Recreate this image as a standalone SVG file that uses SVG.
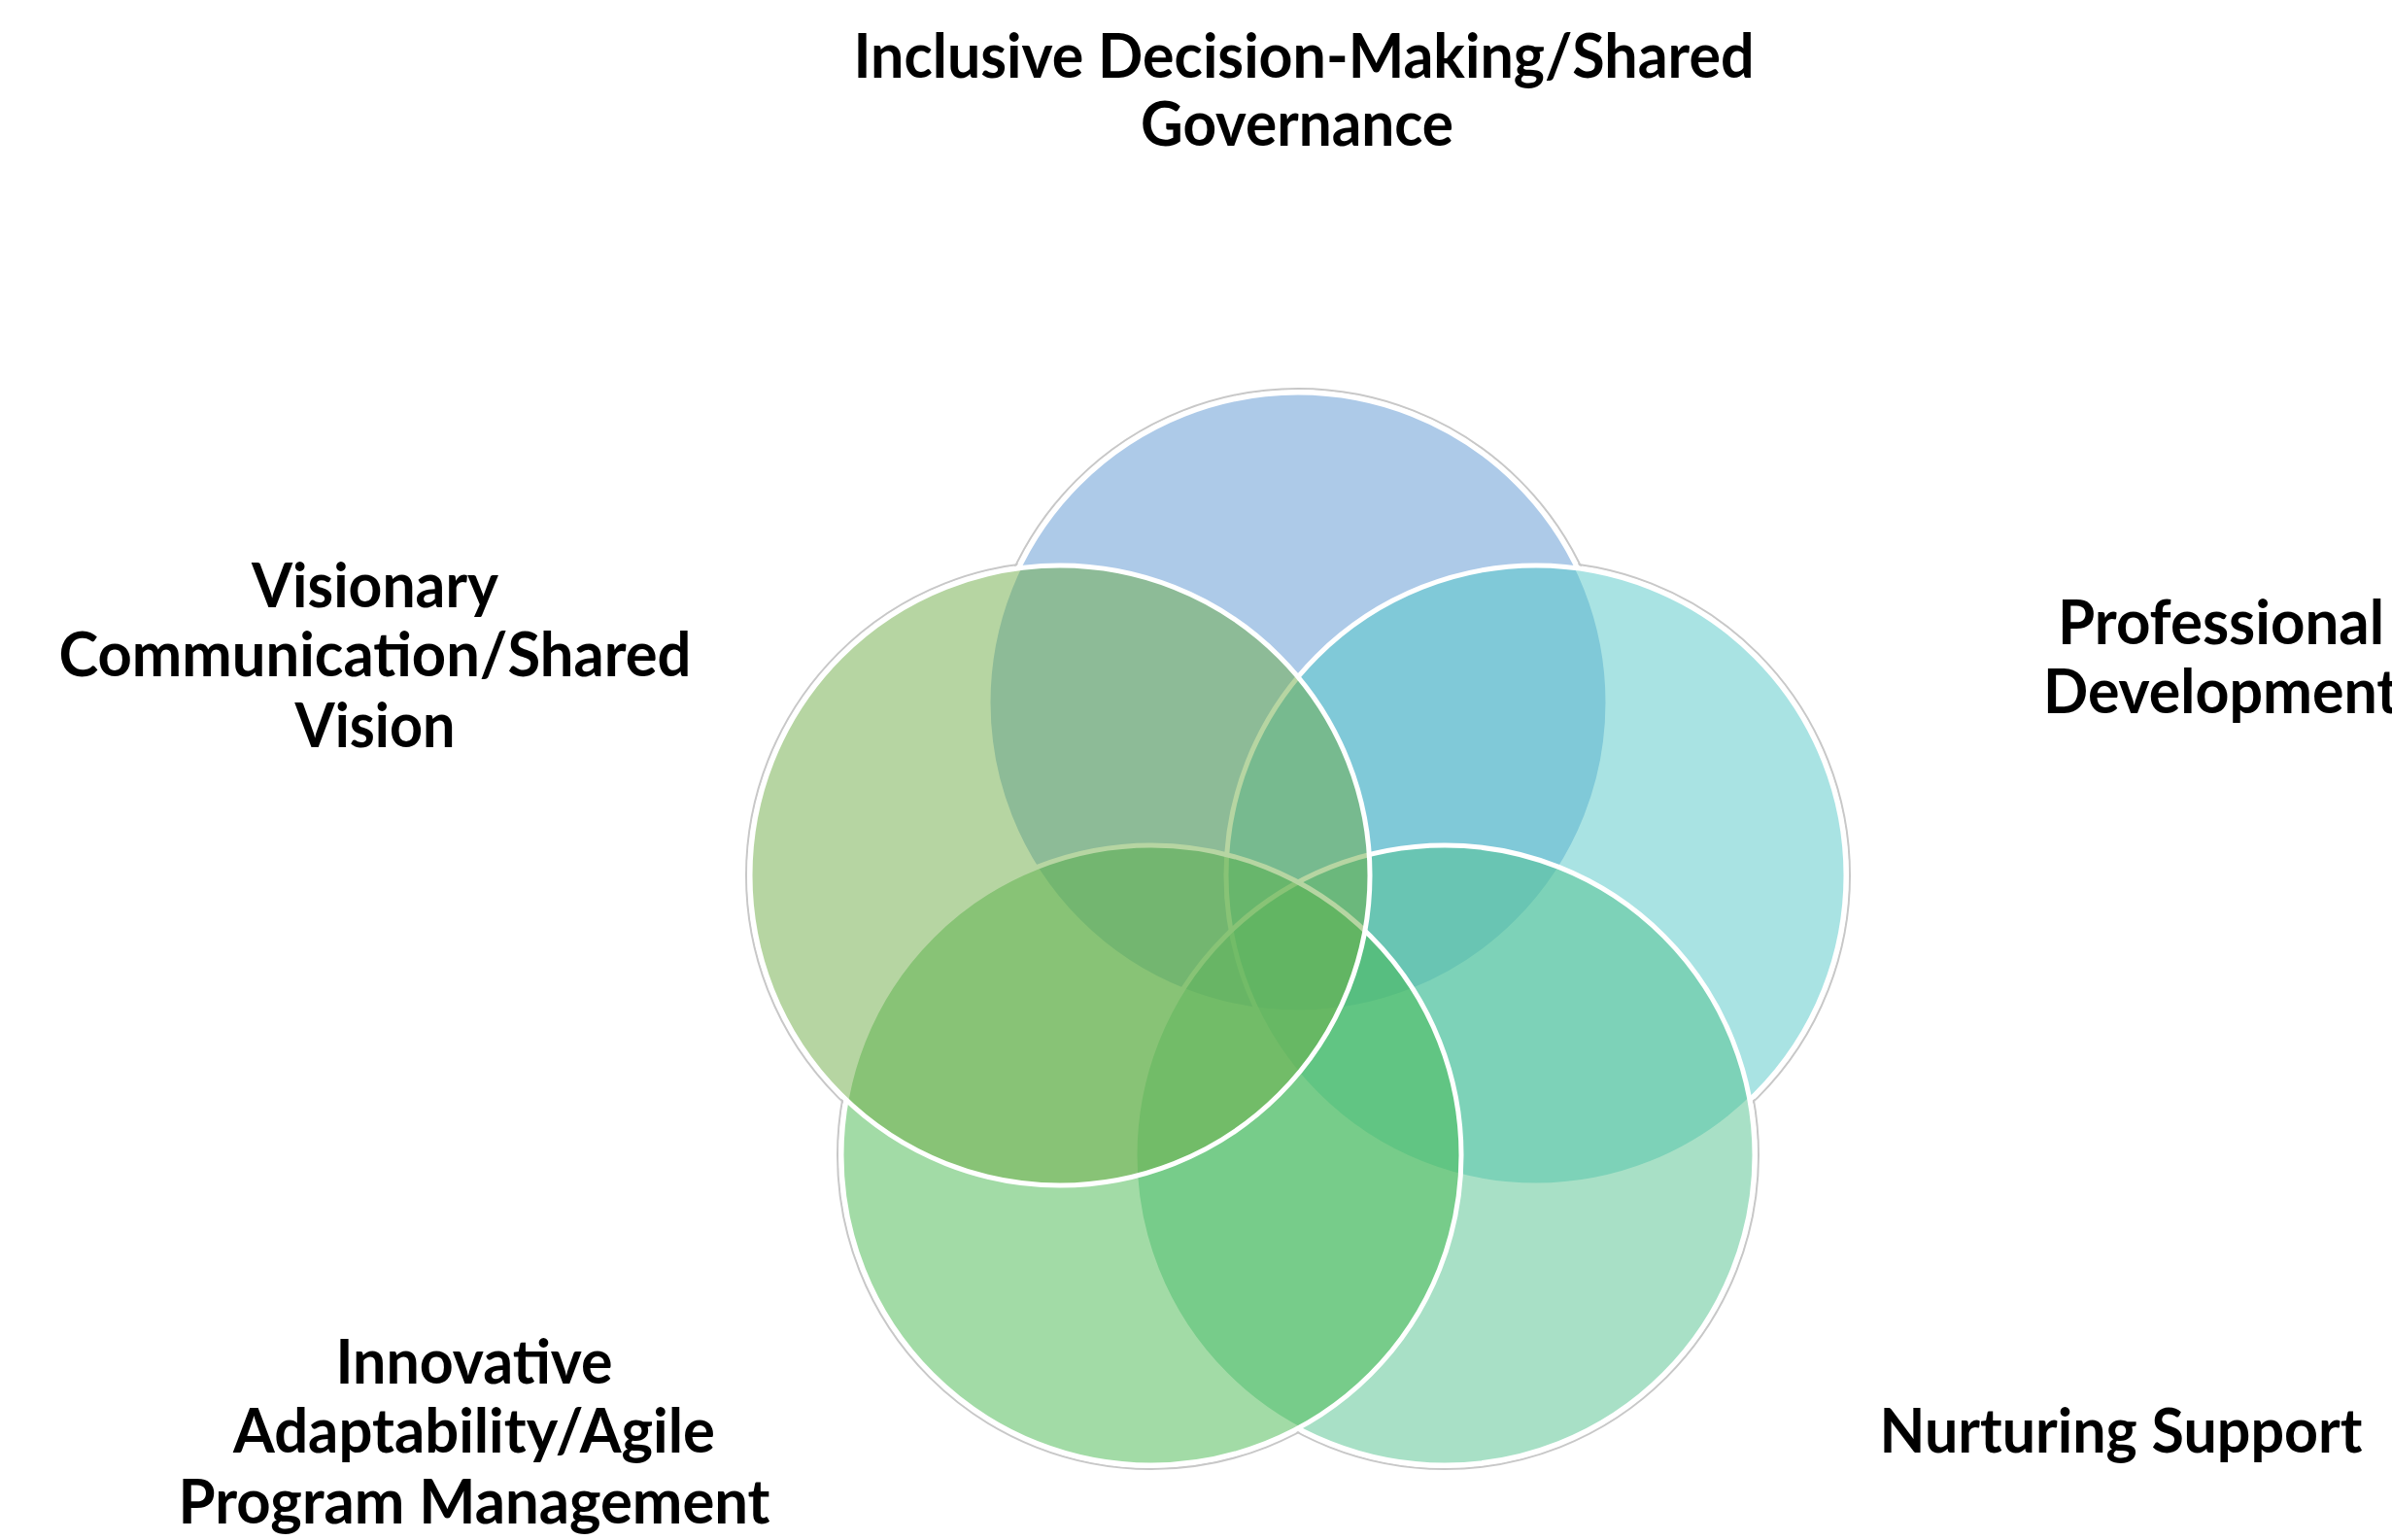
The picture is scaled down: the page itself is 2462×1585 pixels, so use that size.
<svg xmlns="http://www.w3.org/2000/svg" width="2462" height="1585" viewBox="0 0 2462 1585">
<style>
.halo{fill:none;stroke:#c8c8c8;stroke-width:2}
.under{fill:#ffffff;stroke:#ffffff;stroke-width:5}
.c{stroke:#ffffff;stroke-width:5;fill-opacity:0.5}
.lbl{font-family:Lato,"Liberation Sans",sans-serif;font-weight:bold;font-size:64px;fill:#000000;text-anchor:middle}
</style>
<rect width="2462" height="1585" fill="#ffffff"/>
<g id="halos">
<circle class="halo" cx="1336" cy="723" r="323"/>
<circle class="halo" cx="1581" cy="901" r="323"/>
<circle class="halo" cx="1487" cy="1189" r="323"/>
<circle class="halo" cx="1185" cy="1189" r="323"/>
<circle class="halo" cx="1091" cy="901" r="323"/>
</g>
<g id="underlay">
<circle class="under" cx="1336" cy="723" r="319"/>
<circle class="under" cx="1581" cy="901" r="319"/>
<circle class="under" cx="1487" cy="1189" r="319"/>
<circle class="under" cx="1185" cy="1189" r="319"/>
<circle class="under" cx="1091" cy="901" r="319"/>
</g>
<g id="node-governance">
<circle class="c" cx="1336" cy="723" r="319" fill="#5B95D1"/>
<text class="lbl"><tspan x="1342" y="80" textLength="927" lengthAdjust="spacingAndGlyphs">Inclusive Decision-Making/Shared</tspan><tspan x="1335" y="150" textLength="322" lengthAdjust="spacingAndGlyphs">Governance</tspan></text>
</g>
<g id="node-professional">
<circle class="c" cx="1581" cy="901" r="319" fill="#53C7C7"/>
<text class="lbl"><tspan x="2286" y="663" textLength="336" lengthAdjust="spacingAndGlyphs">Professional</tspan><tspan x="2286" y="734" textLength="366" lengthAdjust="spacingAndGlyphs">Development</tspan></text>
</g>
<g id="node-nurturing">
<circle class="c" cx="1487" cy="1189" r="319" fill="#51C18D"/>
<text class="lbl"><tspan x="2183" y="1495" textLength="497" lengthAdjust="spacingAndGlyphs">Nurturing Support</tspan></text>
</g>
<g id="node-innovative">
<circle class="c" cx="1185" cy="1189" r="319" fill="#45B74D"/>
<text class="lbl"><tspan x="488" y="1424" textLength="285" lengthAdjust="spacingAndGlyphs">Innovative</tspan><tspan x="488" y="1495" textLength="496" lengthAdjust="spacingAndGlyphs">Adaptability/Agile</tspan><tspan x="488" y="1568" textLength="609" lengthAdjust="spacingAndGlyphs">Program Management</tspan></text>
</g>
<g id="node-visionary">
<circle class="c" cx="1091" cy="901" r="319" fill="#6DAB45"/>
<text class="lbl"><tspan x="386" y="625" textLength="254" lengthAdjust="spacingAndGlyphs">Visionary</tspan><tspan x="386" y="696" textLength="651" lengthAdjust="spacingAndGlyphs">Communication/Shared</tspan><tspan x="386" y="769" textLength="165" lengthAdjust="spacingAndGlyphs">Vision</tspan></text>
</g>
<g id="connectors"></g>
</svg>
